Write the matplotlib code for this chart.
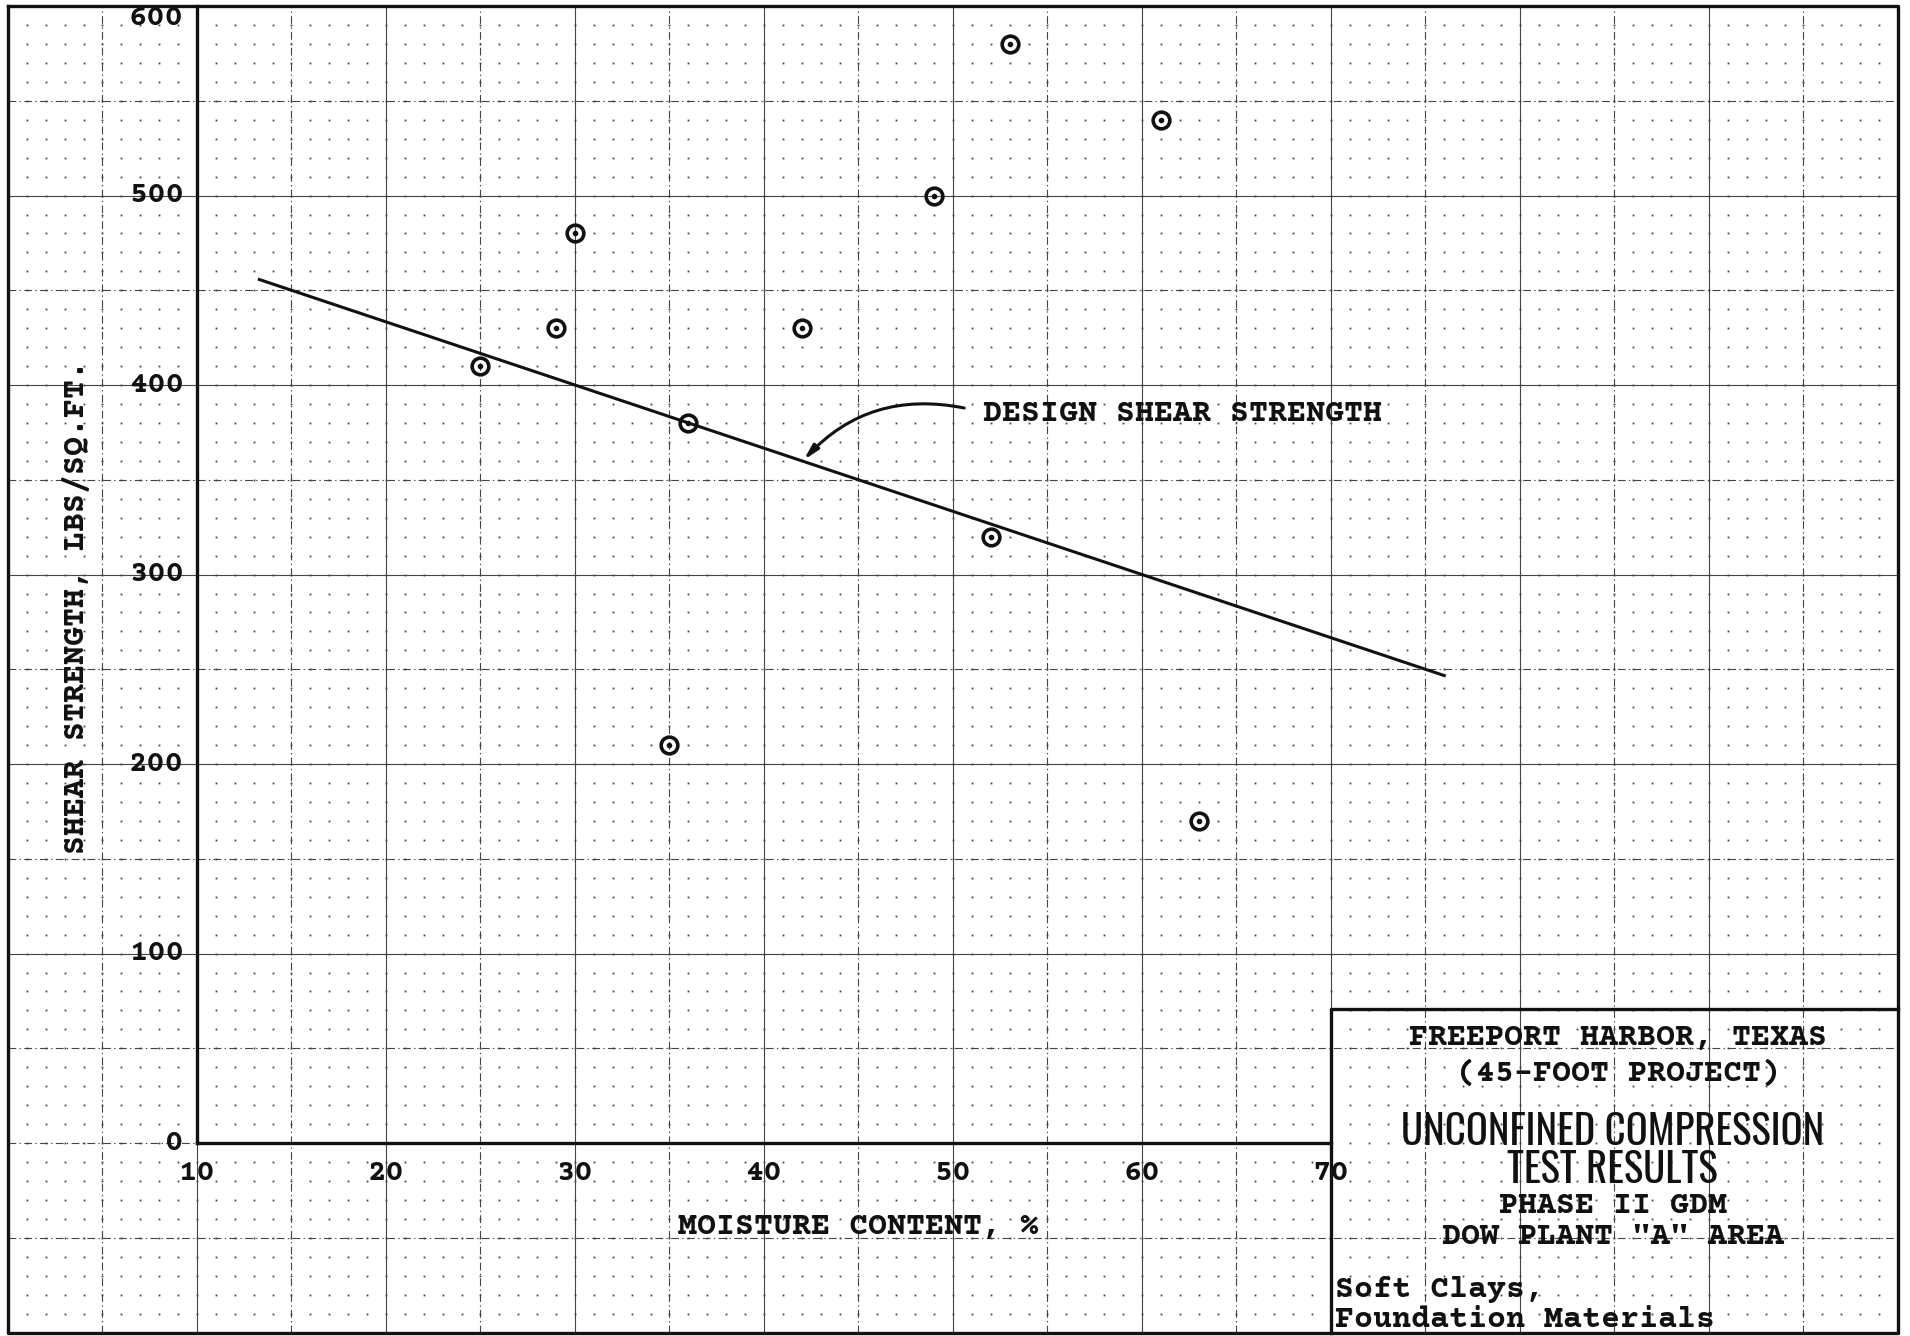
import numpy as np
import matplotlib.pyplot as plt
from matplotlib import font_manager

# data
moisture = [25, 29, 30, 35, 36, 42, 49, 52, 53, 61, 63]
shear = [410, 430, 480, 210, 380, 430, 500, 320, 580, 540, 170]

design_x = [13.3, 76.0]
design_y = [455.7, 246.7]

x_ticks = [10, 20, 30, 40, 50, 60, 70]
y_ticks = [0, 100, 200, 300, 400, 500, 600]

title_lines = ["FREEPORT HARBOR, TEXAS", "(45-FOOT PROJECT)"]
big_lines = ["UNCONFINED COMPRESSION", "TEST RESULTS"]
sub_lines = ["PHASE II GDM", 'DOW PLANT "A" AREA']
note_lines = ["Soft Clays,", "Foundation Materials"]

installed = {f.name for f in font_manager.fontManager.ttflist}


def pick(cands):
    for c in cands:
        if c in installed:
            return c
    return 'DejaVu Sans Mono'


mono = pick(['Courier Prime', 'Nimbus Mono PS', 'FreeMono', 'Courier New', 'Cutive Mono',
             'Liberation Mono'])
narrow = pick(['Oswald', 'Pathway Gothic One', 'Roboto Condensed', 'Barlow Condensed',
               'Saira ExtraCondensed', 'Liberation Mono'])

fig = plt.figure(figsize=(19.10, 13.36), dpi=100)
ax = fig.add_axes([0, 0, 1, 1])
ax.set_xlim(-0.42, 100.64)
ax.set_ylim(-101.8, 603.2)
ax.axis('off')

ink = '#111111'
grid_c = '#444444'
dashdot = (0, (7, 3, 1.2, 3))
fs = 22.8
tw = 'bold'

# graph paper: dots, 5-unit dash-dot lines, 10-unit solid lines
gx, gy = np.meshgrid(np.arange(0, 101, 1), np.arange(-100, 601, 10))
ax.plot(gx.ravel(), gy.ravel(), ls='none', marker='s', ms=1.3, mew=0, color=grid_c, zorder=1)
ax.vlines(np.arange(5, 100, 10), -100, 600, colors=grid_c, lw=0.8, linestyles=[dashdot], zorder=1)
ax.vlines(np.arange(10, 100, 10), -100, 600, colors=grid_c, lw=0.8, zorder=1)
ax.hlines(np.arange(-50, 600, 100), 0, 100, colors=grid_c, lw=0.8, linestyles=[dashdot], zorder=1)
ax.hlines(np.arange(100, 600, 100), 0, 100, colors=grid_c, lw=0.8, zorder=1)
ax.hlines([0], 0, 10, colors=grid_c, lw=0.8, linestyles=[dashdot], zorder=1)

# page border
ax.plot([0, 100, 100, 0, 0], [600, 600, -100, -100, 600], color=ink, lw=2.4, zorder=3)

# axes
ax.plot([10, 10], [0, 600], color=ink, lw=2.4, zorder=3)
ax.plot([10, 70], [0, 0], color=ink, lw=2.4, zorder=3)

# tick labels
for v in y_ticks:
    ax.text(9.3, v, str(v), ha='right', va='top' if v == 600 else 'center',
            family=mono, fontsize=fs - 0.8, weight=tw, color=ink, zorder=4)
for v in x_ticks:
    ax.text(v, -16, str(v), ha='center', va='center', family=mono, fontsize=fs - 0.8,
            weight=tw, color=ink, zorder=4)

ax.text(3.6, 283, "SHEAR STRENGTH, LBS/SQ.FT.", rotation=90, ha='center', va='center',
        family=mono, fontsize=fs, weight=tw, color=ink, zorder=4)
ax.text(45, -44, "MOISTURE CONTENT, %", ha='center', va='center',
        family=mono, fontsize=fs, weight=tw, color=ink, zorder=4)

# data
ax.plot(design_x, design_y, color=ink, lw=2.2, zorder=3)
ax.plot(moisture, shear, ls='none', marker='o', ms=12, mfc='none', mec=ink, mew=2.6, zorder=4)
ax.plot(moisture, shear, ls='none', marker='o', ms=3, color=ink, zorder=4)

ax.text(51.6, 385, "DESIGN SHEAR STRENGTH", ha='left', va='center', family=mono,
        fontsize=fs, weight=tw, color=ink, zorder=4)
ax.annotate("", xy=(42.1, 360.4), xytext=(50.6, 387.9),
            arrowprops=dict(arrowstyle='-|>,head_length=0.9,head_width=0.22', color=ink, lw=2.2,
                            shrinkA=0, shrinkB=0, connectionstyle='arc3,rad=0.28'), zorder=4)

# title block
ax.plot([70, 70, 100], [-100, 70.5, 70.5], color=ink, lw=2.4, zorder=3)
for txt, yy in zip(title_lines, [55.9, 36.6]):
    ax.text(85.2, yy, txt, ha='center', va='center', family=mono, fontsize=fs, weight=tw,
            color=ink, zorder=4)
big = []
for txt, yy in zip(big_lines, [5.8, -14]):
    big.append(ax.text(84.9, yy, txt, ha='center', va='center', family=narrow, fontsize=24,
                       color=ink, zorder=4))
for txt, yy in zip(sub_lines, [-32.8, -49.5]):
    ax.text(84.9, yy, txt, ha='center', va='center', family=mono, fontsize=fs, weight=tw,
            color=ink, zorder=4)
for txt, yy in zip(note_lines, [-77, -93]):
    ax.text(70.2, yy, txt, ha='left', va='center', family=mono, fontsize=fs, weight=tw,
            color=ink, zorder=4)

# size the condensed lettering so the first line spans the same width as on the sheet
fig.canvas.draw()
w = big[0].get_window_extent().width
scale = 423.0 / w
for t in big:
    t.set_fontsize(24 * scale)

fig.savefig("out.png", dpi=100)
